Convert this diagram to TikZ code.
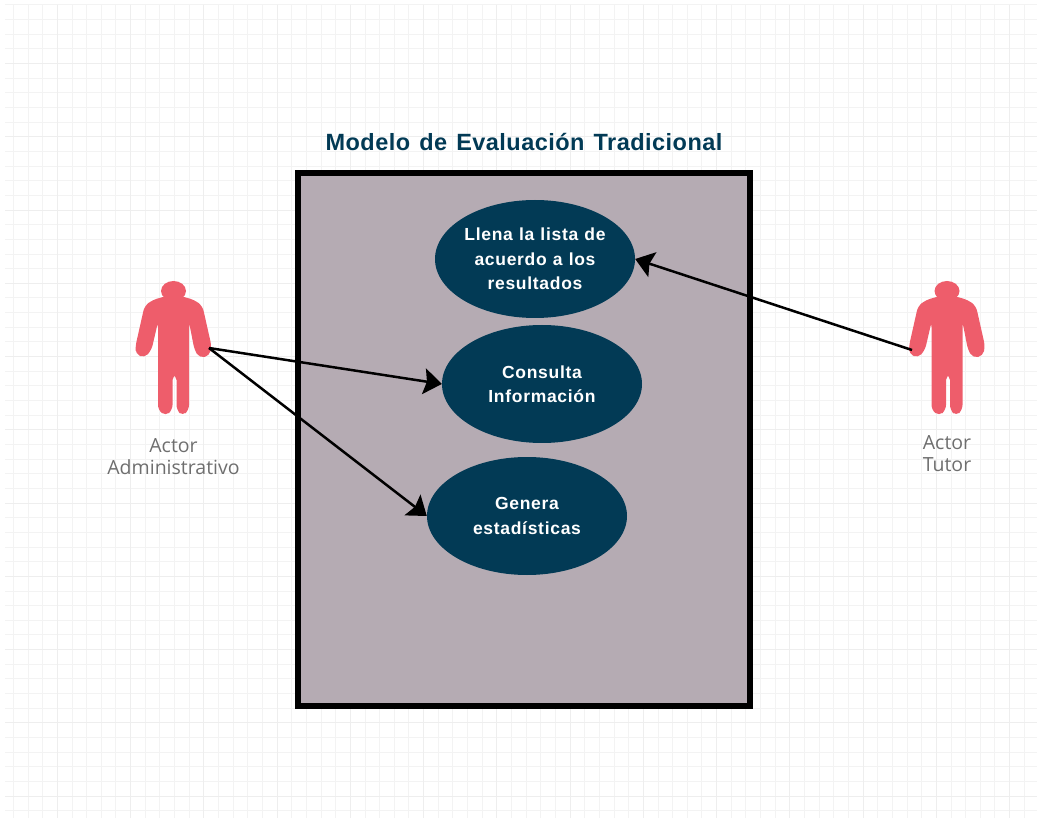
\documentclass[tikz,border=0pt]{standalone}
\usepackage{fontspec}
\setmainfont{Liberation Sans}
\newfontfamily\actorfont{Open Sans}
\newfontfamily\spacedfont[LetterSpace=4,WordSpace=1.1]{Liberation Sans Bold}
\newfontfamily\titlefont[LetterSpace=2,WordSpace=1.3]{Liberation Sans Bold}
\usetikzlibrary{positioning, arrows.meta, shapes.geometric}
\definecolor{navy}{HTML}{023A55}
\definecolor{mauve}{HTML}{B5ABB3}
\definecolor{salmon}{HTML}{EE5D6B}
\definecolor{gridgrey}{HTML}{F3F3F3}
\definecolor{gridmajor}{HTML}{EEEEEE}
\definecolor{labelgrey}{HTML}{6E6E6E}
\tikzset{
    usecase/.style = {draw=none, fill=navy, ellipse, minimum width=200pt, minimum height=118pt, inner sep=0pt,
        text=white, align=center, font=\spacedfont\fontsize{17.5}{24.5}\selectfont},
    actorlabel/.style = {text=labelgrey, align=center, font=\actorfont\fontsize{19.5}{22}\selectfont},
    link/.style = {black, line width=2.5pt, -{Stealth[length=18pt,width=26pt,inset=3pt]}},
    figure/.pic = {
        \fill[salmon] (0,-81) ellipse (12.5 and 10);
        \fill[salmon, rounded corners=5pt] (-7,-76) -- (7,-76) -- (21,-72) -- (29,-66) -- (38,-26) -- (36,-16) -- (26,-14)
            -- (21,-22) -- (15.5,-50) -- (15.5,-10) -- (15.5,38) -- (9,44) -- (3,38) -- (3,3) -- (-1,3) -- (-1,38)
            -- (-8,44) -- (-15.5,38) -- (-15.5,-50) -- (-22,-22) -- (-29,-14) -- (-38,-18) -- (-38,-26) -- (-29,-66) -- (-21,-72) -- cycle;
    }
}
\begin{document}
\begin{tikzpicture}[x=1pt, y=-1pt]
    \useasboundingbox (0,0) rectangle (1037,818);
    % grid
    \foreach \i in {0,...,70} {
        \draw[gridgrey, line width=1pt] ({13.4+14.65*\i},5) -- ({13.4+14.65*\i},818);
    }
    \foreach \j in {0,...,55} {
        \draw[gridgrey, line width=1pt] (5,{5+14.65*\j}) -- (1037,{5+14.65*\j});
    }
    \foreach \i in {0,...,13} {
        \draw[gridmajor, line width=1pt] ({57.3+73.25*\i},5) -- ({57.3+73.25*\i},818);
    }
    \foreach \j in {0,...,10} {
        \draw[gridmajor, line width=1pt] (5,{63.6+73.25*\j}) -- (1037,{63.6+73.25*\j});
    }
    \node[draw=black, fill=mauve, line width=6pt, minimum width=452pt, minimum height=533pt, inner sep=0pt] (box) at (524,439.5) {};
    \node[text=navy, font=\titlefont\fontsize{23.5}{26}\selectfont] (title) at (524,142) {Modelo de Evaluación Tradicional};
    \node[usecase] (llena) at (535,259) {Llena la lista de\\acuerdo a los\\resultados};
    \node[usecase] (consulta) at (542,384) {Consulta\\Información};
    \node[usecase] (genera) at (527,516) {Genera\\estadísticas};
    \pic at (173.5,372) {figure};
    \pic at (947,372) {figure};
    \coordinate (adminhand) at (209,348);
    \coordinate (tutorhand) at (912,350);
    \node[actorlabel] (admin) at (173.5,457) {Actor\\Administrativo};
    \node[actorlabel] (tutor) at (947,454) {Actor\\Tutor};
    \draw[link] (adminhand) -- (consulta.west);
    \draw[link] (adminhand) -- (genera.west);
    \draw[link] (tutorhand) -- (llena.east);
\end{tikzpicture}
\end{document}
